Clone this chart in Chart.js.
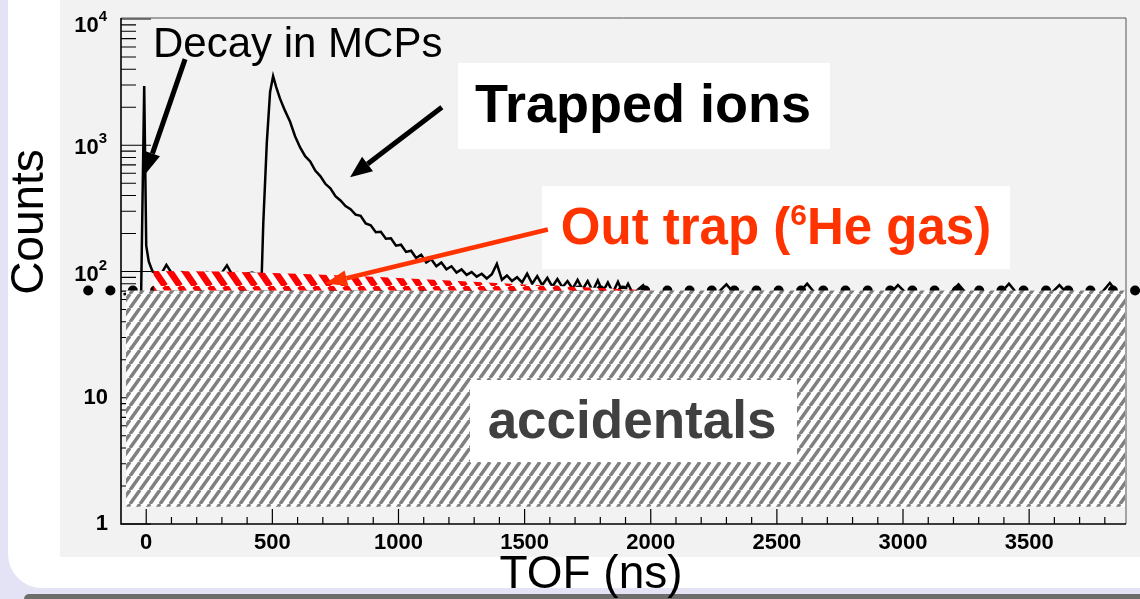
<!DOCTYPE html>
<html>
<head>
<meta charset="utf-8">
<script src="https://cdn.jsdelivr.net/npm/chart.js@4.4.1/dist/chart.umd.min.js"></script>
<style>
  body { margin: 0; width: 1140px; height: 599px; overflow: hidden; background: #e3e3f5; position: relative; }
  #slide { position: absolute; left: 8px; top: 0; width: 1132px; height: 588px; background: #fff; border-bottom-left-radius: 34px; }
  #shadow { position: absolute; left: 24px; top: 594px; width: 1116px; height: 5px; background: #6e6e6e; border-top-left-radius: 12px; }
  #panel { position: absolute; left: 60px; top: 0; width: 1080px; height: 557px; background: #f2f2f2; }
  canvas { position: absolute; left: 0; top: 0; }
</style>
</head>
<body>
<div id="slide"></div>
<div id="shadow"></div>
<div id="panel"></div>
<canvas id="tofChart" width="1140" height="599"></canvas>
<script>
/**************** Data ****************/
// TOF histogram: bin positions (ns) and counts
const tofBins = [
  -90, -70, -50, -30, -20, -8, 0, 10, 25,
  40, 60, 80, 100, 120, 140, 160, 180, 200, 220, 240, 260, 280, 300, 320, 340, 360, 380, 400, 420, 440,
  458, 464, 478, 491, 503, 515,
  530, 550, 570, 590, 610, 630, 650, 670, 690, 710, 730, 750, 770, 790, 810, 830, 850, 870, 890, 910,
  930, 950, 970, 990, 1010, 1030, 1050, 1070, 1090, 1110, 1130, 1150, 1170, 1190, 1210, 1230, 1250,
  1270, 1290, 1310, 1330, 1350, 1370, 1390, 1410, 1430, 1450, 1470, 1490, 1510, 1530, 1550, 1570,
  1590, 1610, 1630, 1650, 1670, 1690, 1710, 1730, 1750, 1770, 1790, 1810, 1830, 1850, 1870, 1890,
  1910, 1930, 1950, 1970, 1990,
  2020, 2060, 2100, 2140, 2180, 2220, 2260, 2300, 2340, 2380, 2420, 2460, 2500, 2540, 2580, 2620,
  2660, 2700, 2740, 2780, 2820, 2860, 2900, 2940, 2980, 3020, 3060, 3100, 3140, 3180, 3220, 3260,
  3300, 3340, 3380, 3420, 3460, 3500, 3540, 3580, 3620, 3660, 3700, 3740, 3780, 3820, 3860,
];
const tofCounts = [
  66, 67, 65, 68, 70, 2950, 160, 120, 100,
  97, 96, 113, 98, 95, 99, 96, 94, 97, 95, 99, 96, 94, 98, 112, 95, 97, 94, 96, 98, 95,
  96, 240, 1050, 2640, 3530, 2900,
  2350, 1880, 1540, 1180, 960, 820, 745, 630, 570, 495, 455, 395, 365, 330, 312, 282, 276, 240, 232, 205,
  206, 182, 183, 160, 163, 143, 146, 128, 136, 118, 125, 110, 118, 104, 110, 98, 104,
  94, 99, 91, 96, 88, 95, 115, 86, 93, 84, 90, 82, 96, 80, 92, 78,
  89, 76, 87, 75, 84, 73, 86, 72, 84, 70, 85, 69, 82, 68, 83, 67,
  80, 66, 72, 78, 65,
  64, 66, 63, 65, 67, 64, 66, 79, 64, 65, 63, 66, 64, 67, 65, 80,
  64, 66, 63, 65, 64, 66, 67, 64, 78, 65, 63, 66, 64, 65, 79, 64,
  66, 63, 65, 80, 64, 66, 63, 65, 78, 64, 66, 63, 65, 81, 64,
];

// "Out trap" component sitting on top of the accidentals
const outTrapTof = [28, 300, 600, 900, 1200, 1500, 1800, 2000];
const outTrapCounts = [101, 100, 96, 91, 85, 79, 74, 70.6];

// Flat accidental background
const accidentalTof = [-80, 3880];
const accidentalLevel = 70.6;
const accidentalFloor = 1.37;

// Marker points along the accidental level
const markerTof = [
  -230, -142, -53, 35, 123, 212, 300, 388, 477, 565, 653, 741, 830, 918, 1006, 1095,
  1183, 1271, 1359, 1448, 1536, 1624, 1713, 1801, 1889, 1978, 2066, 2154, 2242, 2331,
  2419, 2507, 2596, 2684, 2772, 2860, 2949, 3037, 3125, 3214, 3302, 3390, 3478, 3567,
  3655, 3743, 3832, 3920,
];

// Axis ticks
const xTicks = [0, 500, 1000, 1500, 2000, 2500, 3000, 3500];
const yTicks = [1, 10, 100, 1000, 10000];
const yTickBase = ["1", "10", "10", "10", "10"];
const yTickExp = ["", "", "2", "3", "4"];

/**************** Helpers ****************/
const FONT = '"Liberation Sans", Arial, sans-serif';
const RED = "#ff3300";
const MARKER_R = 5;

function makeHatch(color, w, h, width, dir) {
  const c = document.createElement("canvas");
  c.width = w;
  c.height = h;
  const g = c.getContext("2d");
  g.fillStyle = "#ffffff";
  g.fillRect(0, 0, w, h);
  g.strokeStyle = color;
  g.lineWidth = width;
  g.beginPath();
  for (let k = -1; k <= 1; k++) {
    if (dir === "/") {
      g.moveTo(k * w, h);
      g.lineTo(k * w + w, 0);
    } else {
      g.moveTo(k * w, 0);
      g.lineTo(k * w + w, h);
    }
  }
  g.stroke();
  return g.createPattern(c, "repeat");
}

function drawArrow(ctx, x1, y1, x2, y2, color, width, headLen, headWidth) {
  const ang = Math.atan2(y2 - y1, x2 - x1);
  const bx = x2 - headLen * Math.cos(ang);
  const by = y2 - headLen * Math.sin(ang);
  ctx.strokeStyle = color;
  ctx.lineWidth = width;
  ctx.beginPath();
  ctx.moveTo(x1, y1);
  ctx.lineTo(bx, by);
  ctx.stroke();
  ctx.fillStyle = color;
  ctx.beginPath();
  ctx.moveTo(x2, y2);
  ctx.lineTo(bx + (headWidth / 2) * Math.sin(ang), by - (headWidth / 2) * Math.cos(ang));
  ctx.lineTo(bx - (headWidth / 2) * Math.sin(ang), by + (headWidth / 2) * Math.cos(ang));
  ctx.closePath();
  ctx.fill();
}

/**************** Plugins ****************/
// ROOT style ticks pointing into the frame (drawn under the hatched areas)
const innerTicks = {
  id: "innerTicks",
  beforeDatasetsDraw(chart) {
    const { ctx, chartArea: a, scales: { x, y } } = chart;
    ctx.save();
    ctx.strokeStyle = "#000";
    ctx.lineWidth = 1.2;
    ctx.beginPath();
    for (let d = 1; d <= 10000; d *= 10) {
      const py = y.getPixelForValue(d);
      ctx.moveTo(a.left, py);
      ctx.lineTo(a.left + 30, py);
      if (d < 10000) {
        for (let m = 2; m <= 9; m++) {
          const pm = y.getPixelForValue(d * m);
          ctx.moveTo(a.left, pm);
          ctx.lineTo(a.left + 15, pm);
        }
      }
    }
    for (let v = 0; v <= 3800; v += 100) {
      const px = x.getPixelForValue(v);
      ctx.moveTo(px, a.bottom);
      ctx.lineTo(px, a.bottom - (v % 500 === 0 ? 15 : 7));
    }
    ctx.stroke();

    // y tick labels with a real superscript exponent
    ctx.fillStyle = "#000";
    ctx.textBaseline = "middle";
    ctx.textAlign = "left";
    yTicks.forEach((v, i) => {
      let py = y.getPixelForValue(v);
      if (i === yTicks.length - 1) py += 7;
      else if (yTickExp[i]) py += 3;
      ctx.font = "bold 22px " + FONT;
      const wb = ctx.measureText(yTickBase[i]).width;
      ctx.font = "bold 15px " + FONT;
      const we = yTickExp[i] ? ctx.measureText(yTickExp[i]).width : 0;
      const right = a.left - (yTickExp[i] ? 14 : 13);
      ctx.font = "bold 22px " + FONT;
      ctx.fillText(yTickBase[i], right - we - wb, py);
      if (yTickExp[i]) {
        ctx.font = "bold 15px " + FONT;
        ctx.fillText(yTickExp[i], right - we, py - 9);
      }
    });

    // markers that fall outside the frame (Chart.js skips them)
    markerTof.forEach((t) => {
      if (t < x.min || t > x.max) {
        ctx.beginPath();
        ctx.arc(x.getPixelForValue(t), y.getPixelForValue(accidentalLevel), MARKER_R, 0, Math.PI * 2);
        ctx.fill();
      }
    });
    ctx.restore();
  },
};

const annotations = {
  id: "annotations",
  afterDatasetsDraw(chart) {
    const { ctx, chartArea: a, scales: { x, y } } = chart;
    const P = (tx, ty) => [x.getPixelForValue(tx), y.getPixelForValue(ty)];
    ctx.save();

    // frame
    ctx.strokeStyle = "#555";
    ctx.lineWidth = 1;
    ctx.beginPath();
    ctx.moveTo(a.left, a.top - 1);
    ctx.lineTo(a.right + 1, a.top - 1);
    ctx.lineTo(a.right + 1, a.bottom);
    ctx.stroke();
    ctx.strokeStyle = "#000";
    ctx.lineWidth = 1.6;
    ctx.beginPath();
    ctx.moveTo(a.left, a.top - 1);
    ctx.lineTo(a.left, a.bottom);
    ctx.lineTo(a.right + 1, a.bottom);
    ctx.stroke();

    // white label boxes
    ctx.fillStyle = "#fff";
    ctx.fillRect(458, 63, 372, 86);
    ctx.fillRect(542, 186, 468, 83);
    ctx.fillRect(470, 380, 327, 82);

    ctx.textBaseline = "middle";
    ctx.textAlign = "center";

    ctx.fillStyle = "#000";
    ctx.font = "bold 54px " + FONT;
    ctx.fillText("Trapped ions", 643, 107);

    ctx.fillStyle = "#404040";
    ctx.font = "bold 53px " + FONT;
    ctx.fillText("accidentals", 632, 423);

    // Out trap (6He gas) with superscript
    const mainFont = "bold 51px " + FONT;
    const supFont = "bold 30px " + FONT;
    const p1 = "Out trap (", p2 = "6", p3 = "He gas)";
    ctx.font = mainFont;
    const w1 = ctx.measureText(p1).width, w3 = ctx.measureText(p3).width;
    ctx.font = supFont;
    const w2 = ctx.measureText(p2).width;
    let tx = 776 - (w1 + w2 + w3) / 2;
    ctx.textAlign = "left";
    ctx.fillStyle = RED;
    ctx.font = mainFont;
    ctx.fillText(p1, tx, 230);
    ctx.font = supFont;
    ctx.fillText(p2, tx + w1, 217);
    ctx.font = mainFont;
    ctx.fillText(p3, tx + w1 + w2, 230);

    ctx.fillStyle = "#000";
    ctx.font = "42px " + FONT;
    ctx.fillText("Decay in MCPs", 153, 45);

    // arrows (end points given in data coordinates)
    drawArrow(ctx, ...P(154, 4816), ...P(-4, 588), "#000", 5, 22, 16);
    drawArrow(ctx, ...P(1172, 2003), ...P(808, 557), "#000", 5, 22, 18);
    drawArrow(ctx, ...P(1592, 215), ...P(709, 80.4), RED, 4.5, 22, 16);

    // axis titles
    ctx.fillStyle = "#000";
    ctx.textAlign = "center";
    ctx.font = "46px " + FONT;
    ctx.fillText("TOF (ns)", 591, 575);
    ctx.translate(30, 222);
    ctx.rotate(-Math.PI / 2);
    ctx.fillText("Counts", 0, 0);
    ctx.restore();
  },
};

/**************** Chart ****************/
const grayHatch = makeHatch("#808080", 10, 14, 3.5, "/");
const redHatch = makeHatch("#ff0000", 15, 22, 6.5, "\\");

new Chart(document.getElementById("tofChart"), {
  type: "line",
  data: {
    datasets: [
      {
        label: "Out trap",
        data: outTrapTof.map((t, i) => ({ x: t, y: outTrapCounts[i] })),
        borderWidth: 0,
        pointRadius: 0,
        backgroundColor: redHatch,
        fill: { value: accidentalLevel },
        order: 0,
      },
      {
        label: "Accidentals",
        data: accidentalTof.map((t) => ({ x: t, y: accidentalLevel })),
        borderWidth: 0,
        pointRadius: 0,
        backgroundColor: grayHatch,
        fill: { value: accidentalFloor },
        order: 1,
      },
      {
        label: "TOF",
        data: tofBins.map((t, i) => ({ x: t, y: tofCounts[i] })),
        borderColor: "#000",
        borderWidth: 2.5,
        pointRadius: 0,
        tension: 0,
        fill: false,
        order: 2,
      },
      {
        label: "Markers",
        data: markerTof.map((t) => ({ x: t, y: accidentalLevel })),
        showLine: false,
        pointRadius: MARKER_R,
        pointBackgroundColor: "#000",
        pointBorderWidth: 0,
        clip: false,
        order: 3,
      },
    ],
  },
  plugins: [innerTicks, annotations],
  options: {
    responsive: false,
    animation: false,
    devicePixelRatio: 1,
    layout: { padding: { left: 0, top: 19, right: 15, bottom: 0 } },
    plugins: {
      legend: { display: false },
      tooltip: { enabled: false },
    },
    scales: {
      x: {
        type: "linear",
        min: -100,
        max: 3880,
        afterBuildTicks: (scale) => {
          scale.ticks = xTicks.map((v) => ({ value: v }));
        },
        afterFit: (scale) => {
          scale.height = 75;
        },
        grid: { display: false, drawTicks: false },
        border: { display: false },
        ticks: {
          autoSkip: false,
          maxRotation: 0,
          padding: 6,
          color: "#000",
          font: { family: FONT, size: 22, weight: "bold" },
          callback: (v) => String(v),
        },
      },
      y: {
        type: "logarithmic",
        min: 1,
        max: 10000,
        afterBuildTicks: (scale) => {
          scale.ticks = yTicks.map((v) => ({ value: v, major: true }));
        },
        afterFit: (scale) => {
          scale.width = 121;
        },
        grid: { display: false, drawTicks: false },
        border: { display: false },
        ticks: { display: false },
      },
    },
  },
});
</script>
</body>
</html>
